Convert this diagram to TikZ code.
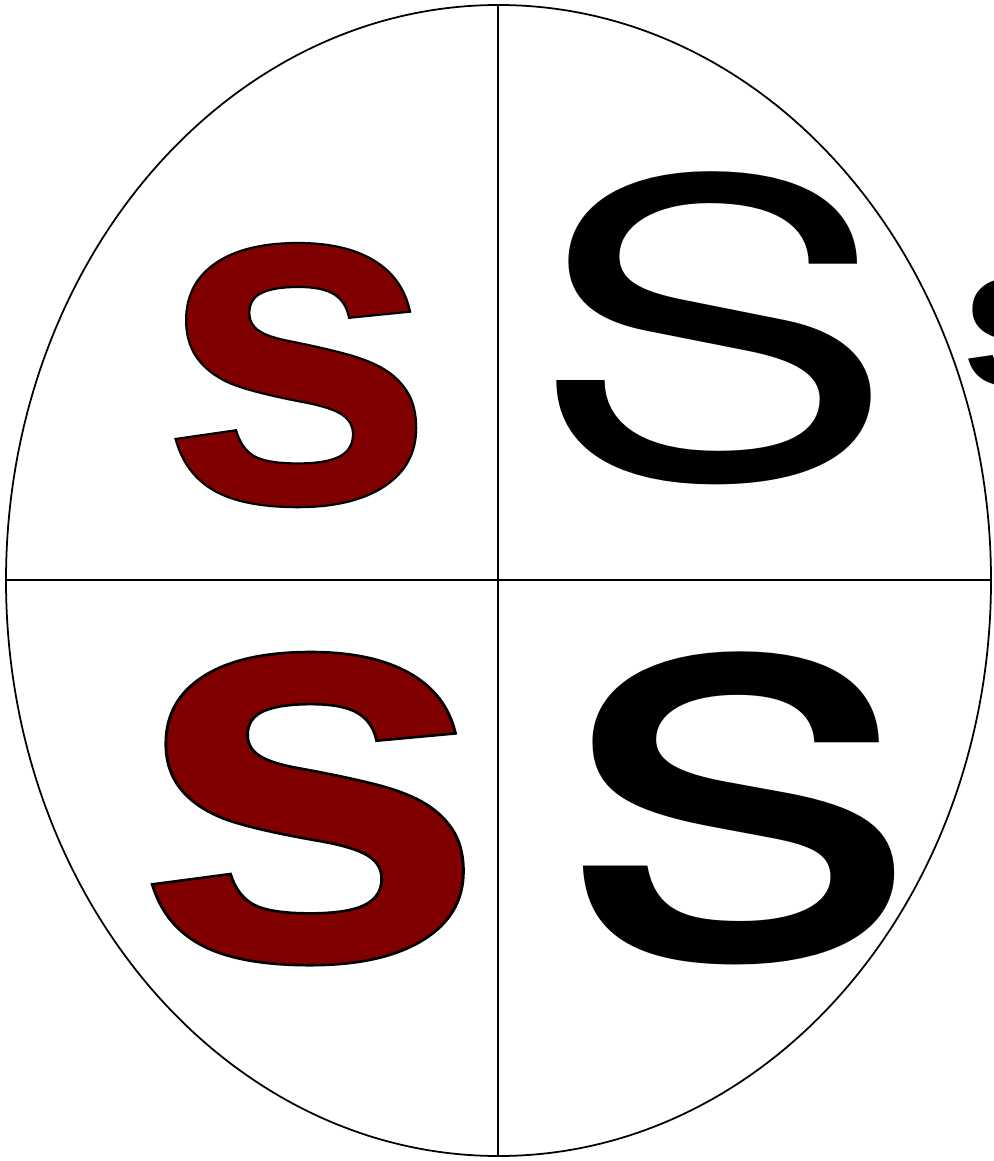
\documentclass[tikz,border=0pt]{standalone}
\usepackage{fontspec}
\setmainfont{Liberation Sans}
\newfontfamily\herosfont{TeX Gyre Heros}
\usepackage{graphicx}
\definecolor{sMaroon}{RGB}{128,0,0}
% black outline round a glyph (fill, then stroke)
\newcommand{\outlined}[1]{\special{pdf:literal direct 2 Tr 0 0 0 RG 0.45 w}#1\special{pdf:literal direct 0 Tr}}

\begin{document}
\begin{tikzpicture}[
    x=0.01cm, y=-0.01cm,
    frame/.style={draw=black, line width=0.5pt},
    glyph/.style={inner sep=0pt, outer sep=0pt, anchor=north west, font=\fontsize{100}{100}\selectfont},
    redglyph/.style={glyph, text=sMaroon},
    blackglyph/.style={glyph, text=black}
]
    \useasboundingbox (0,0) rectangle (993,1161);
    \coordinate (top) at (498,5);
    \coordinate (bottom) at (498,1156);
    \coordinate (left) at (6,580);
    \coordinate (right) at (991,580);

    \draw[frame] (498.5,580.5) ellipse [x radius=492.5, y radius=-575.5];
    \draw[frame] (top) -- (bottom);
    \draw[frame] (left) -- (right);

    \node[redglyph] (sTL) at (158,243) {\resizebox*{2.785cm}{2.64cm}{\bfseries\outlined{s}}};
    \node[blackglyph] (sTR) at (530.1,172) {\resizebox*{3.657cm}{3.13cm}{\herosfont S}};
    \node[redglyph] (sBL) at (129.5,652) {\resizebox*{3.602cm}{3.13cm}{\bfseries\outlined{s}}};
    \node[blackglyph] (sBR) at (558.6,652) {\resizebox*{3.66cm}{3.13cm}{\herosfont s}};
    \node[blackglyph] (sEdge) at (961,277) {\resizebox*{1.13cm}{1.10cm}{\bfseries s}};
\end{tikzpicture}
\end{document}
